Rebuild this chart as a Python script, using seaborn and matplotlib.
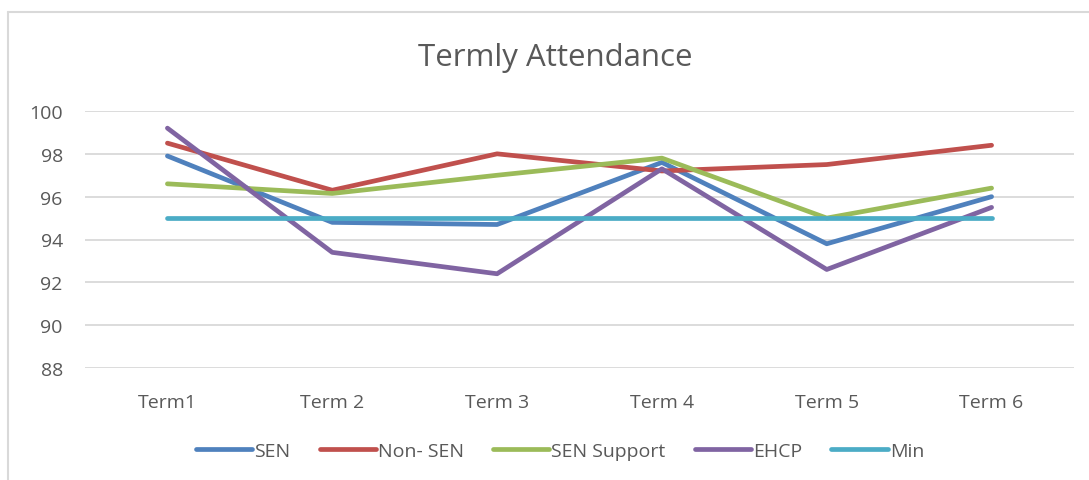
import pandas as pd
import matplotlib.pyplot as plt
import seaborn as sns
from matplotlib.lines import Line2D

terms = ['Term1', 'Term 2', 'Term 3', 'Term 4', 'Term 5', 'Term 6']
sen = [97.9, 94.8, 94.7, 97.6, 93.8, 96.0]
non_sen = [98.5, 96.3, 98.0, 97.2, 97.5, 98.4]
sen_support = [96.6, 96.15, 97.0, 97.8, 95.0, 96.4]
ehcp = [99.2, 93.4, 92.4, 97.3, 92.6, 95.5]
min_line = [95, 95, 95, 95, 95, 95]

series_names = ['SEN', 'Non- SEN', 'SEN Support', 'EHCP', 'Min']
colours = ['#4F81BD', '#C0504D', '#9BBB59', '#8064A2', '#4BACC6']

# long-form table for seaborn
rows = []
for name, vals in zip(series_names, [sen, non_sen, sen_support, ehcp, min_line]):
    for t, v in zip(terms, vals):
        rows.append({'term': t, 'value': v, 'series': name})
df = pd.DataFrame(rows)

sns.set_style('white')
plt.rcParams['font.family'] = ['Open Sans', 'DejaVu Sans']

fig = plt.figure(figsize=(10.89, 4.81), dpi=100)
ax = fig.add_axes([85 / 1089, 1 - 369 / 481, (1074 - 85) / 1089, (369 - 112) / 481])

sns.lineplot(data=df, x='term', y='value', hue='series', palette=colours,
             hue_order=series_names, linewidth=3.4, ax=ax, legend=False,
             solid_capstyle='round')

ax.set_xlim(-0.5, 5.5)
ax.set_ylim(88, 100)
ax.set_yticks(range(88, 101, 2))
ax.yaxis.grid(True, color='#D9D9D9', linewidth=1.3)
ax.set_axisbelow(True)
for s in ax.spines.values():
    s.set_visible(False)
ax.tick_params(axis='both', length=0, labelsize=14, colors='#595959')
ax.tick_params(axis='y', pad=16)
ax.tick_params(axis='x', pad=18)
ax.set_xlabel('')
ax.set_ylabel('')

fig.text(555 / 1089, 1 - 58 / 481, 'Termly Attendance', ha='center', va='center',
         fontsize=22.5, color='#595959')

handles = [Line2D([0], [0], color=c, linewidth=3.4, solid_capstyle='round') for c in colours]
fig.legend(handles, series_names, loc='center', bbox_to_anchor=(560 / 1089, 1 - 452 / 481),
           ncol=5, frameon=False, fontsize=14, labelcolor='#595959',
           handlelength=2.9, handletextpad=0.1, columnspacing=1.5)

# chart-area border (top and left edges visible)
fig.add_artist(Line2D([8 / 1089, 8 / 1089], [0, 1 - 13 / 481], color='#D9D9D9', linewidth=1.5))
fig.add_artist(Line2D([8 / 1089, 1], [1 - 13 / 481, 1 - 13 / 481], color='#D9D9D9', linewidth=1.5))

fig.savefig('out.png', dpi=100)
